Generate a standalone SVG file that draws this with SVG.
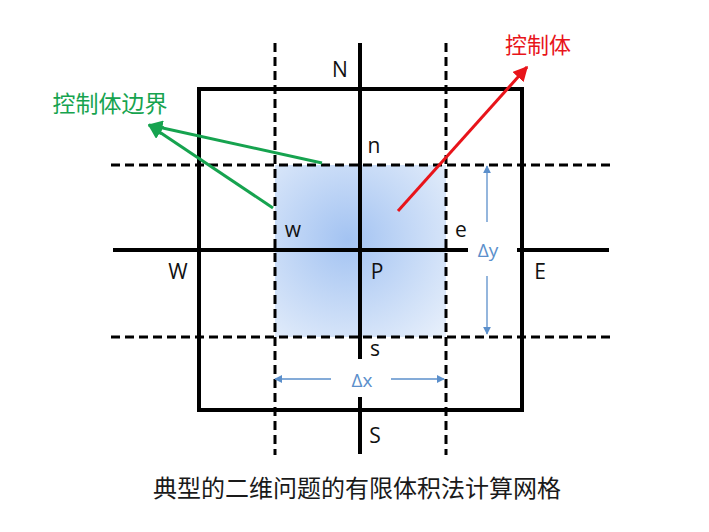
<svg xmlns="http://www.w3.org/2000/svg" width="709" height="532" viewBox="0 0 709 532">
<style>
.solid{stroke:#000;stroke-width:4;fill:none}
.dash{stroke:#000;stroke-width:3;fill:none;stroke-dasharray:9 5}
.lbl{font-family:"Open Sans","Noto Sans","Liberation Sans",sans-serif;font-size:21px;fill:#111}
.dl{font-family:"Open Sans","Noto Sans","Liberation Sans",sans-serif;font-size:19px;fill:#5b8fcb}
.cjk{font-family:"Noto Sans CJK SC",sans-serif}
.dim{stroke:#5b8fcb;stroke-width:1.3;fill:none}
</style>
<defs>
<radialGradient id="g" cx="348" cy="240" r="135" gradientUnits="userSpaceOnUse">
<stop offset="0" stop-color="#a3c3f2"/>
<stop offset="1" stop-color="#e8f0fb"/>
</radialGradient>
<marker id="ab" viewBox="0 0 10 10" refX="9" refY="5" markerWidth="8" markerHeight="8" markerUnits="userSpaceOnUse" orient="auto"><path d="M0,0 L10,5 L0,10 z" fill="#5b8fcb"/></marker>
<marker id="ag" viewBox="0 0 10 10" refX="9" refY="5" markerWidth="5" markerHeight="5" orient="auto"><path d="M0,0 L10,5 L0,10 z" fill="#16a34f"/></marker>
<marker id="ar" viewBox="0 0 10 10" refX="9" refY="5" markerWidth="5" markerHeight="5" orient="auto"><path d="M0,0 L10,5 L0,10 z" fill="#e8141a"/></marker>
</defs>
<rect id="cv" x="275" y="165" width="171" height="172" fill="url(#g)"/>
<g id="grid">
<rect x="199" y="89" width="323" height="321" class="solid"/>
<line x1="360" y1="43" x2="360" y2="359" class="solid"/>
<line x1="360" y1="397" x2="360" y2="454" class="solid"/>
<line x1="113" y1="250" x2="468" y2="250" class="solid"/>
<line x1="517" y1="250" x2="609" y2="250" class="solid"/>
<line x1="111" y1="165" x2="610" y2="165" class="dash"/>
<line x1="111" y1="337" x2="610" y2="337" class="dash"/>
<line x1="275" y1="43" x2="275" y2="455" class="dash"/>
<line x1="446" y1="43" x2="446" y2="455" class="dash"/>
</g>
<g id="labels">
<text x="340" y="77" class="lbl" text-anchor="middle">N</text>
<text x="374" y="153" class="lbl" text-anchor="middle">n</text>
<text x="293" y="237" class="lbl" text-anchor="middle">w</text>
<text x="461" y="237" class="lbl" text-anchor="middle">e</text>
<text x="178" y="279" class="lbl" text-anchor="middle">W</text>
<text x="377" y="279" class="lbl" text-anchor="middle">P</text>
<text x="540" y="279" class="lbl" text-anchor="middle">E</text>
<text x="375" y="356" class="lbl" text-anchor="middle">s</text>
<text x="375" y="443" class="lbl" text-anchor="middle">S</text>
<text x="488" y="257" class="dl" text-anchor="middle">Δy</text>
<text x="362" y="387" class="dl" text-anchor="middle">Δx</text>
<text x="110" y="112" class="cjk" font-size="23" fill="#16a34f" text-anchor="middle">控制体边界</text>
<text x="538" y="53" class="cjk" font-size="22" fill="#e8141a" text-anchor="middle">控制体</text>
<text x="357" y="497" class="cjk" font-size="24" fill="#1a1a1a" text-anchor="middle">典型的二维问题的有限体积法计算网格</text>
</g>
<g id="connectors">
<line x1="487" y1="222" x2="487" y2="166" class="dim" marker-end="url(#ab)"/>
<line x1="487" y1="276" x2="487" y2="334" class="dim" marker-end="url(#ab)"/>
<line x1="331" y1="379" x2="275" y2="379" class="dim" marker-end="url(#ab)"/>
<line x1="391" y1="379" x2="444" y2="379" class="dim" marker-end="url(#ab)"/>
<line x1="322" y1="163" x2="149" y2="125" stroke="#16a34f" stroke-width="3" marker-end="url(#ag)"/>
<line x1="273" y1="208" x2="149" y2="125" stroke="#16a34f" stroke-width="3" marker-end="url(#ag)"/>
<line x1="398" y1="211" x2="527" y2="67" stroke="#e8141a" stroke-width="3" marker-end="url(#ar)"/>
</g>
</svg>
